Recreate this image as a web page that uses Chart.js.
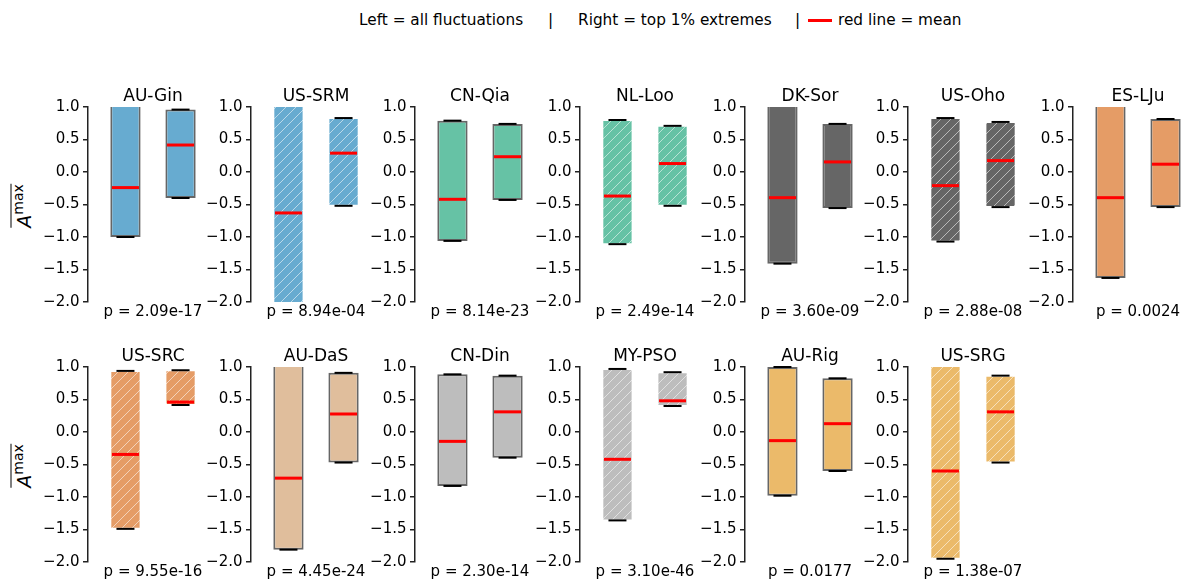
<!DOCTYPE html>
<html><head><meta charset="utf-8">
<script src="https://cdn.jsdelivr.net/npm/chart.js@4.4.1/dist/chart.umd.min.js"></script>
<style>
html,body{margin:0;padding:0;background:#fff;overflow:hidden;width:1182px;height:581px;}
#wrap{position:relative;width:1182px;height:581px;font-family:'DejaVu Sans',sans-serif;color:#000;}
canvas{position:absolute;}
.hdr{position:absolute;top:10px;font-size:15.3px;line-height:20px;white-space:pre;}
.redline{position:absolute;top:19px;left:808px;width:24px;height:3px;background:#ff0000;}
.ylab{position:absolute;transform:translate(-50%,-50%) rotate(-90deg);white-space:nowrap;font-size:19px;line-height:1;}
.ol{display:inline-block;border-top:1.5px solid #000;padding-top:3px;}
.ol i{font-style:italic;}
.ol sup{font-size:14px;line-height:0;vertical-align:8px;}
</style>
</head><body>
<div id="wrap">
  <span class="hdr" style="left:359px">Left = all fluctuations</span>
  <span class="hdr" style="left:548px">|</span>
  <span class="hdr" style="left:578px">Right = top 1% extremes</span>
  <span class="hdr" style="left:795px">|</span>
  <span class="redline"></span>
  <span class="hdr" style="left:838px">red line = mean</span>
  <div class="ylab" style="left:22px;top:206px"><span class="ol"><i>A</i><sup>max</sup></span></div>
  <div class="ylab" style="left:22px;top:466px"><span class="ol"><i>A</i><sup>max</sup></span></div>
</div>
<script>
// ---- data ----
const sites    = ['AU-Gin','US-SRM','CN-Qia','NL-Loo','DK-Sor','US-Oho','ES-LJu','US-SRC','AU-DaS','CN-Din','MY-PSO','AU-Rig','US-SRG'];
const allMin   = [-1.00, -2.05, -1.06, -1.11, -1.41, -1.07, -1.63, -1.49, -1.81, -0.83, -1.36, -0.98, -1.95];
const allMax   = [ 1.05,  1.05,  0.79,  0.80,  1.05,  0.83,  1.05,  0.94,  1.05,  0.887, 0.97,  1.00,  1.05];
const allMean  = [-0.24, -0.63, -0.42, -0.37, -0.395,-0.21, -0.395,-0.345,-0.71, -0.144,-0.42, -0.133,-0.60];
const extMin   = [-0.40, -0.52, -0.43, -0.52, -0.555,-0.54, -0.54,  0.415,-0.47, -0.395, 0.40, -0.60, -0.47];
const extMax   = [ 0.96,  0.83,  0.74,  0.71,  0.74,  0.77,  0.815, 0.95,  0.91,  0.867, 0.92,  0.826, 0.867];
const extMean  = [ 0.415, 0.29,  0.235, 0.13,  0.155, 0.175, 0.12,  0.46,  0.277, 0.31,  0.48,  0.128, 0.31];
const pValues  = ['2.09e-17','8.94e-04','8.14e-23','2.49e-14','3.60e-09','2.88e-08','0.0024','9.55e-16','4.45e-24','2.30e-14','3.10e-46','0.0177','1.38e-07'];
const yTicks   = [1.0, 0.5, 0.0, -0.5, -1.0, -1.5, -2.0];

// ---- styles ----
const fills    = ['#67abd0','#67abd0','#66c2a5','#66c2a5','#666666','#666666','#e59c66','#e59c66','#e0be9c','#bdbdbd','#bdbdbd','#ebba6a','#ebba6a'];
const hatched  = [false,true,false,true,false,true,false,true,false,false,true,false,true];

// ---- layout ----
const axisLeft = [88, 251, 415, 580, 745, 908, 1073];
const rowTop   = [107, 367];
const Y_W = 60, PLOT_W = 130, PAD_R = 4, TITLE_H = 25, PLOT_H = 195, X_H = 19;

Chart.defaults.font.family = "'DejaVu Sans', sans-serif";
Chart.defaults.color = '#000';

function hatchPattern(color){
  const c = document.createElement('canvas'); c.width = c.height = 10;
  const g = c.getContext('2d');
  g.fillStyle = color; g.fillRect(0,0,10,10);
  g.strokeStyle = 'rgba(255,255,255,0.55)'; g.lineWidth = 1;
  g.beginPath();
  g.moveTo(0,10); g.lineTo(10,0);
  g.moveTo(-1,1); g.lineTo(1,-1);
  g.moveTo(9,11); g.lineTo(11,9);
  g.stroke();
  return g.createPattern(c,'repeat');
}
const fmt = v => (Math.abs(v) < 1e-9 ? 0 : v).toFixed(1).replace('-', '\u2212');

const wrap = document.getElementById('wrap');
sites.forEach((site, i) => {
  const row = i < 7 ? 0 : 1, col = i < 7 ? i : i - 7;
  const cv = document.createElement('canvas');
  const W = Y_W + PLOT_W + PAD_R, H = TITLE_H + PLOT_H + X_H;
  cv.width = W; cv.height = H;
  cv.style.left = (axisLeft[col] - Y_W) + 'px';
  cv.style.top = (rowTop[row] - TITLE_H) + 'px';
  cv.style.width = W + 'px'; cv.style.height = H + 'px';
  wrap.appendChild(cv);

  const h = hatched[i];
  new Chart(cv, {
    type: 'bar',
    data: { datasets: [
      { type: 'line', order: 1, showLine: false, clip: 1,
        data: [{x:0, y: allMean[i]}, {x:1, y: extMean[i]}],
        pointStyle: 'line', pointRadius: 13.5, pointBorderWidth: 3,
        pointBorderColor: '#ff0000', pointBackgroundColor: '#ff0000' },
      { type: 'line', order: 2, showLine: false, clip: 1,
        data: [{x:0, y: allMin[i]}, {x:0, y: allMax[i]}, {x:1, y: extMin[i]}, {x:1, y: extMax[i]}],
        pointStyle: 'line', pointRadius: 9, pointBorderWidth: 2,
        pointBorderColor: '#000', pointBackgroundColor: '#000' },
      { type: 'bar', order: 3, clip: 0,
        data: [{x:0, y:[allMin[i], allMax[i]]}, {x:1, y:[extMin[i], extMax[i]]}],
        backgroundColor: h ? hatchPattern(fills[i]) : fills[i],
        borderColor: h ? 'rgba(255,255,255,0.6)' : 'rgba(0,0,0,0.6)',
        borderWidth: h ? 1 : 2, borderSkipped: false,
        barPercentage: 0.55, categoryPercentage: 1.0 }
    ]},
    options: {
      responsive: false, animation: false, events: [],
      layout: { autoPadding: false, padding: { left: 0, right: PAD_R, top: 0, bottom: 0 } },
      plugins: {
        legend: { display: false }, tooltip: { enabled: false },
        title: { display: true, text: site, fullSize: false, color: '#000',
                 font: { size: 17, weight: 'normal' }, padding: { top: 4.6, bottom: 0 } }
      },
      scales: {
        x: { type: 'linear', min: -0.68, max: 1.68, offset: false,
             ticks: { display: false }, grid: { display: false }, border: { display: false },
             title: { display: true, text: 'p = ' + pValues[i], color: '#000', font: { size: 15 }, padding: 0 },
             afterFit(s){ s.height = X_H; } },
        y: { type: 'linear', min: -2, max: 1,
             afterBuildTicks(s){ s.ticks = yTicks.map(v => ({ value: v })); },
             ticks: { callback: v => fmt(v), color: '#000', font: { size: 15 }, padding: 3.5 },
             grid: { drawOnChartArea: false, drawTicks: true, tickLength: 5, lineWidth: 1.5, color: '#222' },
             border: { display: true, color: '#222', width: 1.5 },
             afterFit(s){ s.width = Y_W; } }
      }
    }
  });
});
</script>
</body></html>
